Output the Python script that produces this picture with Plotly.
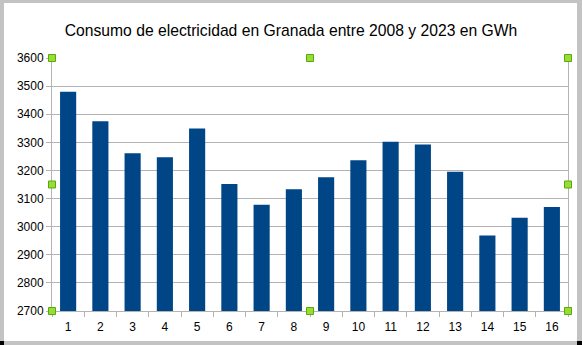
import plotly.graph_objects as go

categories = [str(i) for i in range(1, 17)]
values = [3480, 3375, 3261, 3247, 3349, 3152, 3078, 3133, 3176, 3236, 3302, 3292, 3195, 2969, 3032, 3070]
title_text = "Consumo de electricidad en Granada entre 2008 y 2023 en GWh"
y_ticks = list(range(2700, 3601, 100))

W, H = 582, 345
L, R, T, B = 52, 14, 58, 34
pw, ph = W - L - R, H - T - B

def px_x(p):
    return (p - L) / pw

def px_y(p):
    return (H - B - p) / ph

fig = go.Figure(go.Bar(x=categories, y=values, marker=dict(color="#004586", line=dict(width=0)),
                       width=0.5))

grid = "#b3b3b3"
fig.update_layout(
    width=W, height=H,
    margin=dict(l=L, r=R, t=T, b=B),
    paper_bgcolor="white", plot_bgcolor="white",
    font=dict(family="Liberation Sans, Arial, sans-serif", size=12, color="#000000"),
    title=dict(text=title_text, x=0.5, xanchor="center", y=1 - 31 / H, yanchor="middle",
               font=dict(size=15.7, color="#000000")),
    showlegend=False,
    bargap=0.5,
)
fig.update_xaxes(type="category", tickson="boundaries", ticks="outside", ticklen=5, tickcolor=grid,
                 showline=True, linecolor=grid, linewidth=1, showgrid=False,
                 ticklabelstandoff=5, automargin=False)
fig.update_yaxes(range=[2700, 3600], tickvals=y_ticks, ticks="outside", ticklen=5, tickcolor=grid,
                 showline=True, linecolor=grid, linewidth=1, mirror=True,
                 showgrid=True, gridcolor=grid, gridwidth=1, zeroline=False, automargin=False)

shapes = []
band = "#c3c3c3"
# outer frame bands
for (x0, x1, y0, y1) in [(0, W, 0, 3), (0, 4, 0, H), (577, W, 0, H), (0, W, 341, H)]:
    shapes.append(dict(type="rect", xref="paper", yref="paper", x0=px_x(x0), x1=px_x(x1),
                       y0=px_y(y1), y1=px_y(y0), fillcolor=band, line=dict(width=0), layer="above"))
for (x0, x1, y0, y1) in [(0, 4, 341, H), (577, W, 341, H)]:
    shapes.append(dict(type="rect", xref="paper", yref="paper", x0=px_x(x0), x1=px_x(x1),
                       y0=px_y(y1), y1=px_y(y0), fillcolor="#000000", line=dict(width=0), layer="above"))
# selection handles
hs = 3.5 / pw
vs = 3.5 / ph
for hx in (0, 0.5, 1):
    for hy in (0, 0.5, 1):
        if hx == 0.5 and hy == 0.5:
            continue
        shapes.append(dict(type="rect", xref="paper", yref="paper", x0=hx - hs, x1=hx + hs,
                           y0=hy - vs, y1=hy + vs, fillcolor="#99dd33",
                           line=dict(color="#55aa11", width=1), layer="above"))
fig.update_layout(shapes=shapes)

fig.write_html("out.html")
